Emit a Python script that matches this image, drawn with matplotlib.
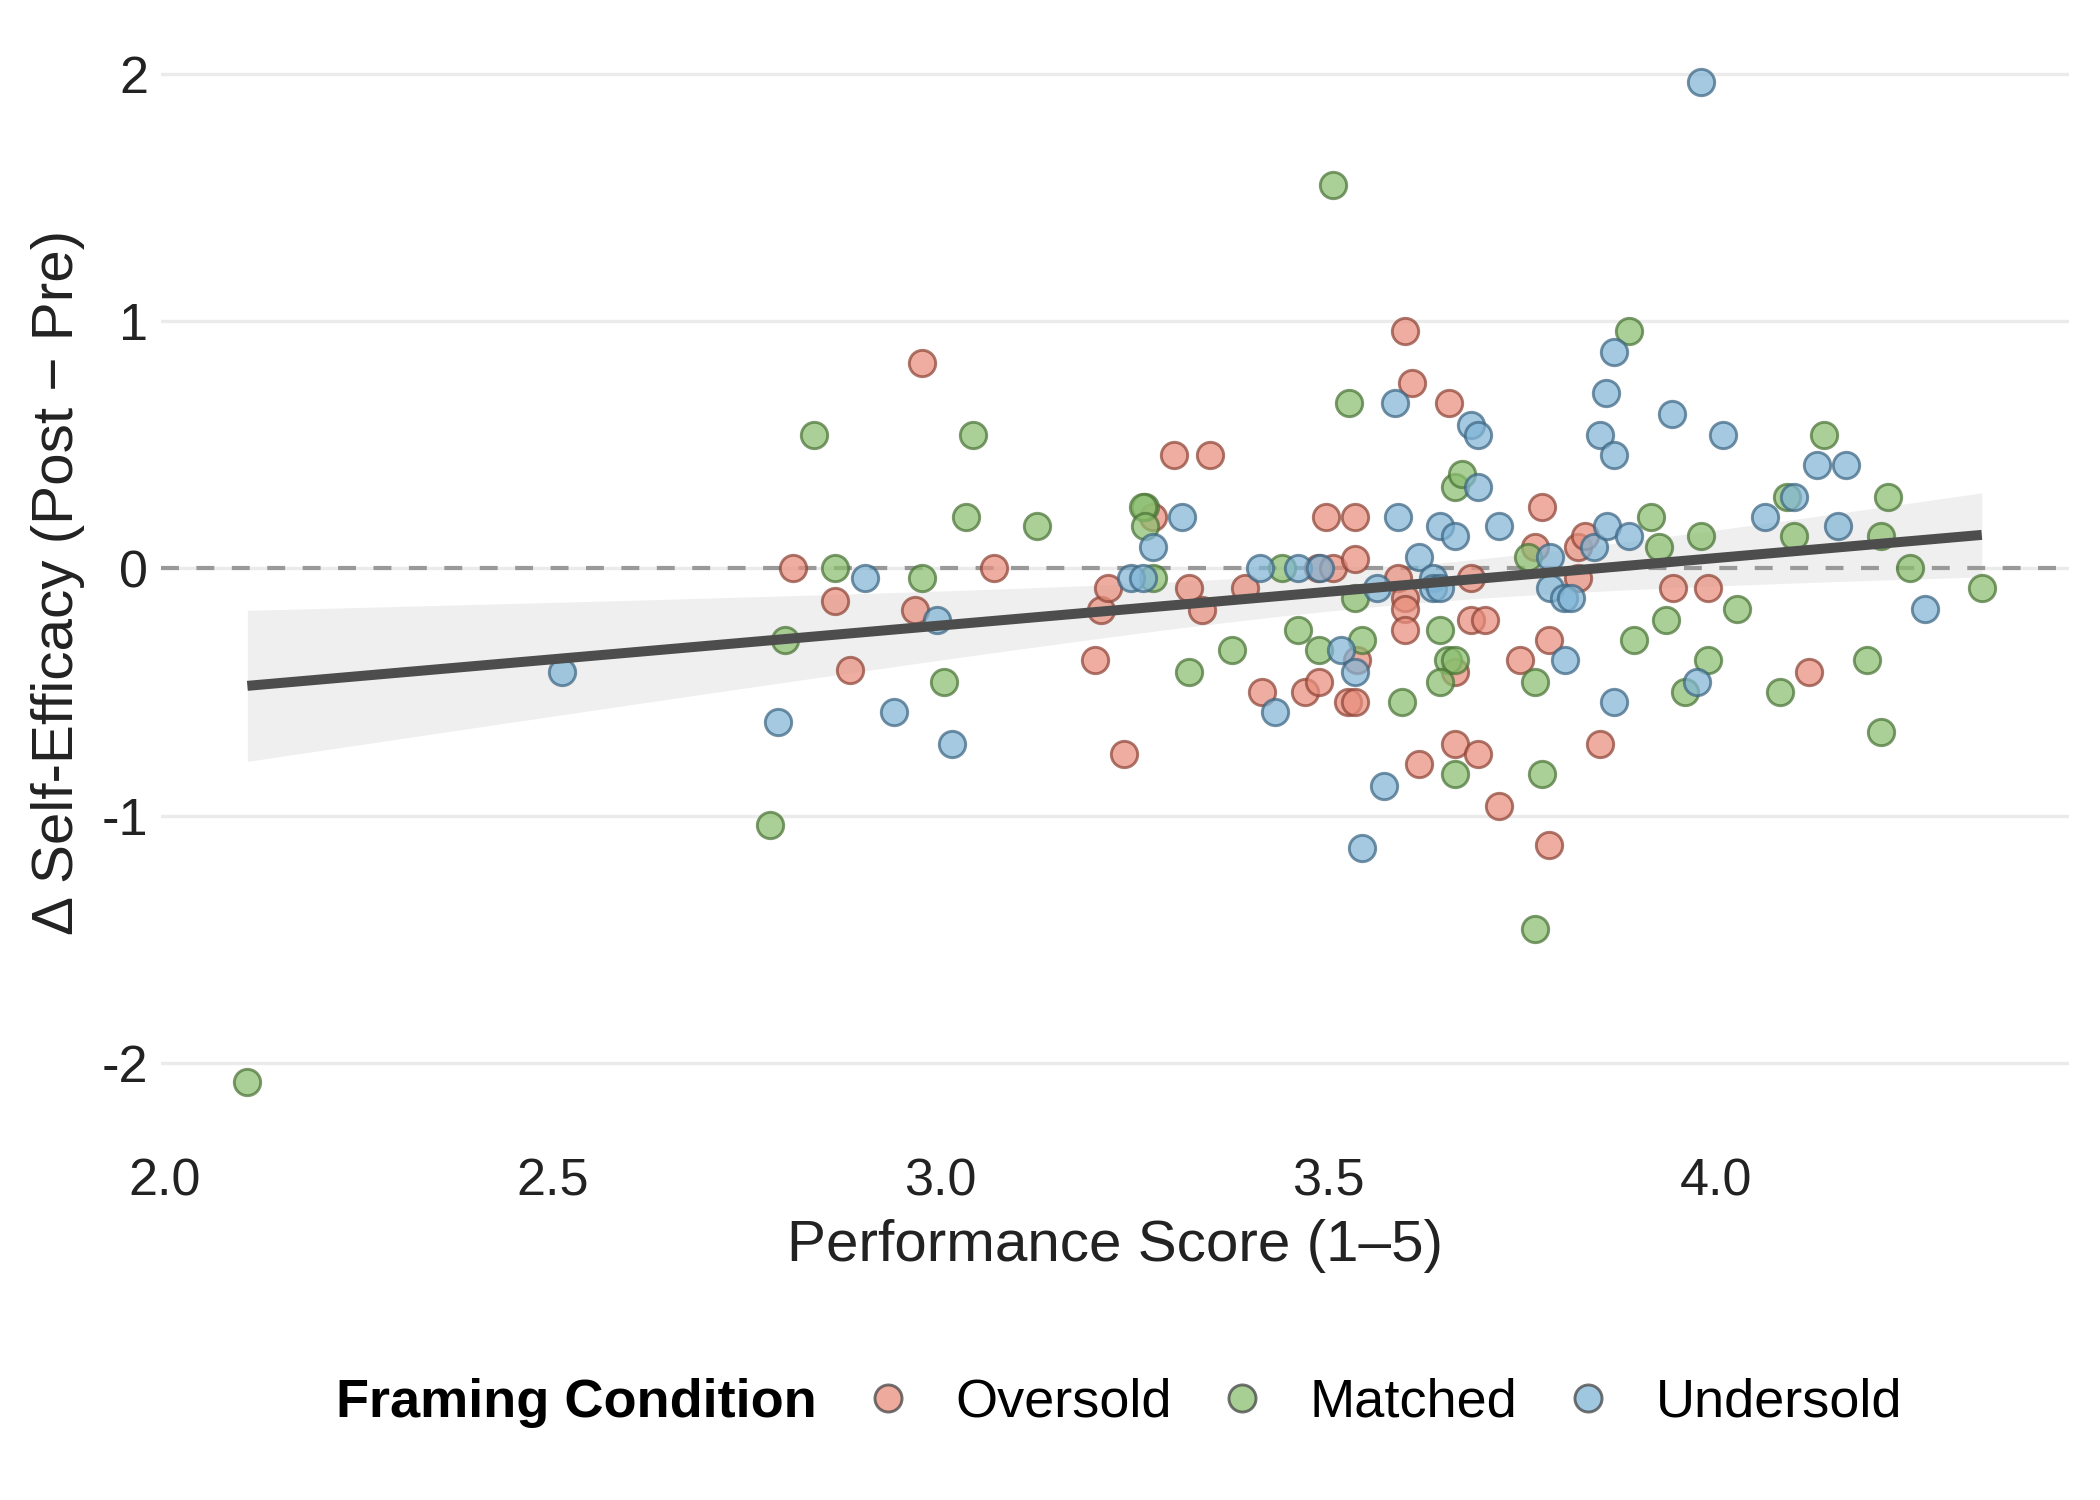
import numpy as np
import matplotlib
matplotlib.use("Agg")
import matplotlib.pyplot as plt
from matplotlib.lines import Line2D

plt.rcParams['font.family'] = ['Liberation Sans', 'DejaVu Sans']
plt.rcParams['axes.unicode_minus'] = False

# data: performance score vs change in self-efficacy
over_x = [2.81, 2.865, 2.884, 2.977, 2.968, 3.070, 3.200, 3.208, 3.217, 3.237,
          3.302, 3.348, 3.274, 3.321, 3.338, 3.393, 3.415, 3.470, 3.489, 3.497,
          3.487, 3.506, 3.535, 3.535, 3.537, 3.526, 3.535, 3.600, 3.609, 3.591,
          3.600, 3.600, 3.600, 3.617, 3.656, 3.664, 3.664, 3.684, 3.684, 3.702,
          3.693, 3.721, 3.748, 3.767, 3.776, 3.785, 3.785, 3.823, 3.823, 3.832,
          3.851, 3.945, 3.990, 4.120]
over_y = [0.00, -0.13, -0.41, 0.83, -0.17, 0.00, -0.37, -0.17, -0.08, -0.75,
          0.46, 0.46, 0.21, -0.08, -0.17, -0.08, -0.50, -0.50, -0.46, 0.21,
          0.00, 0.00, 0.21, 0.04, -0.37, -0.54, -0.54, 0.96, 0.75, -0.04,
          -0.12, -0.165, -0.25, -0.79, 0.67, -0.42, -0.71, -0.04, -0.21, -0.21,
          -0.75, -0.96, -0.37, 0.086, 0.25, -0.29, -1.12, 0.086, -0.04, 0.13,
          -0.71, -0.08, -0.08, -0.42]

match_x = [2.107, 2.781, 2.800, 2.837, 2.865, 2.977, 3.005, 3.033, 3.042, 3.125,
           3.264, 3.262, 3.264, 3.274, 3.321, 3.376, 3.441, 3.462, 3.489, 3.544,
           3.527, 3.506, 3.535, 3.595, 3.645, 3.655, 3.664, 3.645, 3.664, 3.664,
           3.673, 3.758, 3.767, 3.776, 3.767, 3.888, 3.895, 3.917, 3.927, 3.936,
           3.960, 3.981, 3.990, 4.027, 4.083, 4.092, 4.101, 4.139, 4.195, 4.213,
           4.213, 4.222, 4.250, 4.343]
match_y = [-2.08, -1.04, -0.29, 0.54, 0.00, -0.04, -0.46, 0.21, 0.54, 0.17,
           0.25, 0.25, 0.17, -0.04, -0.42, -0.33, 0.00, -0.25, -0.33, -0.29,
           0.67, 1.55, -0.12, -0.54, -0.25, -0.37, -0.37, -0.46, -0.83, 0.33,
           0.38, 0.045, -0.46, -0.83, -1.46, 0.96, -0.29, 0.21, 0.086, -0.21,
           -0.50, 0.13, -0.37, -0.166, -0.50, 0.29, 0.13, 0.54, -0.37, 0.13,
           -0.66, 0.29, 0.00, -0.08]

under_x = [2.513, 2.791, 2.903, 2.940, 2.996, 3.015, 3.246, 3.262, 3.274, 3.312,
           3.413, 3.432, 3.461, 3.490, 3.517, 3.535, 3.563, 3.572, 3.544, 3.586,
           3.591, 3.617, 3.635, 3.635, 3.645, 3.645, 3.664, 3.684, 3.693, 3.693,
           3.720, 3.786, 3.786, 3.804, 3.814, 3.806, 3.843, 3.851, 3.859, 3.860,
           3.869, 3.869, 3.869, 3.888, 3.944, 3.976, 3.981, 4.009, 4.064, 4.101,
           4.130, 4.157, 4.168, 4.270]
under_y = [-0.42, -0.62, -0.04, -0.58, -0.21, -0.71, -0.04, -0.04, 0.086, 0.21,
           0.00, -0.58, 0.00, 0.00, -0.33, -0.42, -0.08, -0.88, -1.13, 0.67,
           0.21, 0.045, -0.04, -0.08, -0.08, 0.17, 0.13, 0.58, 0.54, 0.33,
           0.17, 0.045, -0.08, -0.12, -0.12, -0.37, 0.086, 0.54, 0.71, 0.17,
           0.875, 0.46, -0.54, 0.13, 0.625, -0.46, 1.97, 0.54, 0.21, 0.29,
           0.42, 0.17, 0.42, -0.166]

groups = ['Oversold', 'Matched', 'Undersold']
face = {'Oversold': '#E88E7C', 'Matched': '#8BBF6F', 'Undersold': '#81B5D6'}
edge = {'Oversold': '#8E4436', 'Matched': '#4A7436', 'Undersold': '#3D6683'}
xs = {'Oversold': over_x, 'Matched': match_x, 'Undersold': under_x}
ys = {'Oversold': over_y, 'Matched': match_y, 'Undersold': under_y}

fig = plt.figure(figsize=(7, 5), dpi=300)
ax = fig.add_axes([0.0765, 0.245, 0.9085, 0.734])

# fit line with 95% CI on all points
allx = np.array(over_x + match_x + under_x)
ally = np.array(over_y + match_y + under_y)
n = len(allx)
b1, b0 = np.polyfit(allx, ally, 1)
resid = ally - (b0 + b1 * allx)
s = np.sqrt(np.sum(resid ** 2) / (n - 2))
gx = np.linspace(allx.min(), allx.max(), 100)
se = s * np.sqrt(1 / n + (gx - allx.mean()) ** 2 / np.sum((allx - allx.mean()) ** 2))
gy = b0 + b1 * gx
ax.fill_between(gx, gy - 1.975 * se, gy + 1.975 * se, color='#EFEFEF', lw=0, zorder=1)

ax.axhline(0, color='#999999', lw=1.0, ls=(0, (4.3, 4.2)), zorder=1.5)

for g in groups:
    ax.scatter(xs[g], ys[g], s=40, c=face[g], edgecolors=edge[g], linewidths=0.7,
               alpha=0.72, zorder=3)

ax.plot(gx, gy, color='#4D4D4D', lw=2.4, zorder=4, solid_capstyle='butt')

ax.set_xticks([2.0, 2.5, 3.0, 3.5, 4.0])
ax.set_yticks([-2, -1, 0, 1, 2])
ax.grid(axis='y', color='#EBEBEB', lw=0.8)
ax.grid(axis='x', visible=False)
ax.set_axisbelow(True)
for sp in ax.spines.values():
    sp.set_visible(False)
ax.tick_params(length=0, labelsize=12.5, colors='#222222')
ax.tick_params(axis='x', pad=6)
ax.tick_params(axis='y', pad=3)
ax.set_xlabel('Performance Score (1–5)', fontsize=14, color='#222222', labelpad=3)
ax.set_ylabel('Δ Self-Efficacy (Post − Pre)', fontsize=14, color='#222222', labelpad=4)

# legend along the bottom
fig.text(0.389, 0.065, 'Framing Condition', ha='right', va='center',
         fontsize=13, fontweight='bold', color='black')
handles = [Line2D([], [], ls='none', marker='o', markersize=6.5,
                  markerfacecolor=face[g], markeredgecolor='#444444',
                  markeredgewidth=0.7, alpha=0.75) for g in groups]
fig.legend(handles, groups, loc='center left', bbox_to_anchor=(0.4098, 0.065),
           ncol=3, frameon=False, fontsize=13, handlelength=1.0,
           handletextpad=0.75, columnspacing=0.8, borderpad=0, borderaxespad=0)

fig.savefig('out.png', dpi=300, facecolor='white')
